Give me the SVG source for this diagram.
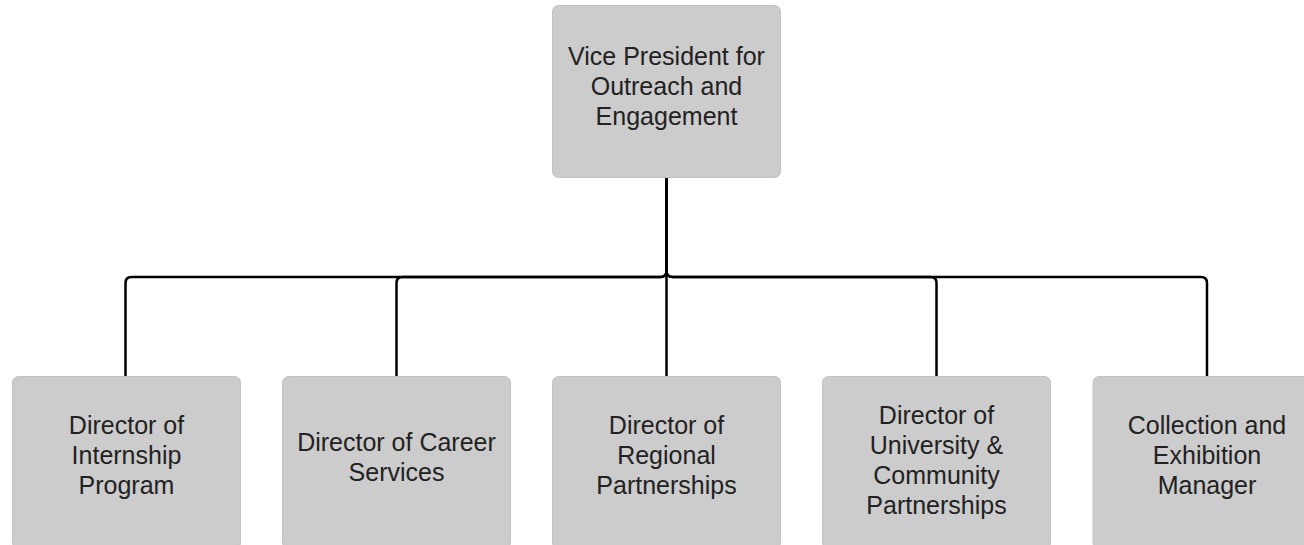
<svg xmlns="http://www.w3.org/2000/svg" width="1304" height="545" viewBox="0 0 1304 545">
<style>
.box{fill:#cccccc;stroke:#c2c2c2;stroke-width:1}
.lbl{font-family:"Liberation Sans",Arial,sans-serif;font-size:25px;fill:#222;text-anchor:middle}
.edge{fill:none;stroke:#000;stroke-width:2.5;stroke-linejoin:round}
</style>
<rect width="1304" height="545" fill="#fff"/>
<g id="connectors">
<path class="edge" d="M666.5,177 V271 Q666.5,277 660.5,277 H131.5 Q125.5,277 125.5,283 V376"/>
<path class="edge" d="M666.5,177 V271 Q666.5,277 660.5,277 H402.5 Q396.5,277 396.5,283 V376"/>
<path class="edge" d="M666.5,177 V376"/>
<path class="edge" d="M666.5,177 V271 Q666.5,277 672.5,277 H930.5 Q936.5,277 936.5,283 V376"/>
<path class="edge" d="M666.5,177 V271 Q666.5,277 672.5,277 H1201 Q1207,277 1207,283 V376"/>
</g>
<g id="vp">
<rect class="box" x="552.5" y="5.5" width="228" height="172" rx="6"/>
<text class="lbl" x="666.5" y="65">Vice President for</text>
<text class="lbl" x="666.5" y="95">Outreach and</text>
<text class="lbl" x="666.5" y="125">Engagement</text>
</g>
<g id="internship">
<rect class="box" x="12.5" y="376.5" width="228" height="172" rx="6"/>
<text class="lbl" x="126.5" y="434">Director of</text>
<text class="lbl" x="126.5" y="464">Internship</text>
<text class="lbl" x="126.5" y="494">Program</text>
</g>
<g id="career">
<rect class="box" x="282.5" y="376.5" width="228" height="172" rx="6"/>
<text class="lbl" x="396.5" y="451">Director of Career</text>
<text class="lbl" x="396.5" y="481">Services</text>
</g>
<g id="regional">
<rect class="box" x="552.5" y="376.5" width="228" height="172" rx="6"/>
<text class="lbl" x="666.5" y="434">Director of</text>
<text class="lbl" x="666.5" y="464">Regional</text>
<text class="lbl" x="666.5" y="494">Partnerships</text>
</g>
<g id="university">
<rect class="box" x="822.5" y="376.5" width="228" height="172" rx="6"/>
<text class="lbl" x="936.5" y="424">Director of</text>
<text class="lbl" x="936.5" y="454">University &amp;</text>
<text class="lbl" x="936.5" y="484">Community</text>
<text class="lbl" x="936.5" y="514">Partnerships</text>
</g>
<g id="collection">
<rect class="box" x="1093" y="376.5" width="228" height="172" rx="6"/>
<text class="lbl" x="1207" y="434">Collection and</text>
<text class="lbl" x="1207" y="464">Exhibition</text>
<text class="lbl" x="1207" y="494">Manager</text>
</g>
</svg>
